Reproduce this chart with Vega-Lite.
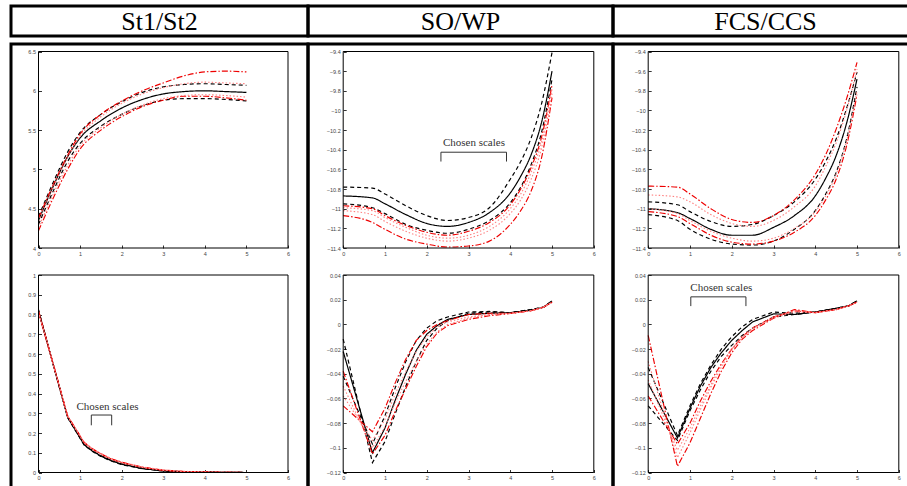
{
"$schema": "https://vega.github.io/schema/vega-lite/v6.json",
"padding": {"left": 9, "top": 4, "right": 0, "bottom": 0},
"background": "white",
"spacing": 4,
"config": {
  "view": {"stroke": "black", "strokeWidth": 3},
  "axis": {"grid": false, "domain": false, "ticks": true, "tickSize": -3, "tickColor": "black", "tickWidth": 0.8, "labelFont": "Liberation Sans", "labelFontSize": 5.5, "labelColor": "#444444", "labelPadding": 6, "labelFlush": false, "labelOverlap": false, "labelBound": false}
},
"datasets": {
  "p1": [
    {"x":0,"a":4.35,"b":4.40,"c":4.30,"d":4.38,"e":4.22,"f":4.34,"g":4.26},
    {"x":0.35,"a":4.78,"b":4.83,"c":4.72,"d":4.80,"e":4.63,"f":4.77,"g":4.68},
    {"x":0.7,"a":5.16,"b":5.22,"c":5.10,"d":5.18,"e":5.00,"f":5.15,"g":5.05},
    {"x":1,"a":5.40,"b":5.47,"c":5.33,"d":5.45,"e":5.26,"f":5.42,"g":5.30},
    {"x":1.5,"a":5.62,"b":5.70,"c":5.55,"d":5.70,"e":5.50,"f":5.67,"g":5.53},
    {"x":2,"a":5.78,"b":5.86,"c":5.70,"d":5.87,"e":5.67,"f":5.84,"g":5.70},
    {"x":2.5,"a":5.89,"b":5.98,"c":5.81,"d":6.00,"e":5.80,"f":5.96,"g":5.82},
    {"x":3,"a":5.96,"b":6.05,"c":5.88,"d":6.10,"e":5.88,"f":6.04,"g":5.90},
    {"x":3.5,"a":5.99,"b":6.08,"c":5.90,"d":6.19,"e":5.93,"f":6.09,"g":5.94},
    {"x":4,"a":6.00,"b":6.09,"c":5.90,"d":6.24,"e":5.93,"f":6.11,"g":5.95},
    {"x":4.5,"a":5.99,"b":6.08,"c":5.89,"d":6.25,"e":5.91,"f":6.10,"g":5.94},
    {"x":5,"a":5.98,"b":6.07,"c":5.87,"d":6.24,"e":5.88,"f":6.09,"g":5.92}
  ],
  "p2": [
    {"x":0,"a":-10.87,"b":-10.78,"c":-10.95,"d":-10.97,"e":-11.07,"f":-10.99,"g":-11.02},
    {"x":0.7,"a":-10.89,"b":-10.79,"c":-10.99,"d":-11.00,"e":-11.14,"f":-11.02,"g":-11.06},
    {"x":1,"a":-10.95,"b":-10.85,"c":-11.05,"d":-11.07,"e":-11.21,"f":-11.09,"g":-11.13},
    {"x":1.5,"a":-11.06,"b":-10.97,"c":-11.16,"d":-11.17,"e":-11.31,"f":-11.19,"g":-11.23},
    {"x":2,"a":-11.15,"b":-11.07,"c":-11.22,"d":-11.24,"e":-11.36,"f":-11.27,"g":-11.30},
    {"x":2.5,"a":-11.18,"b":-11.12,"c":-11.25,"d":-11.27,"e":-11.39,"f":-11.30,"g":-11.33},
    {"x":3,"a":-11.14,"b":-11.09,"c":-11.21,"d":-11.23,"e":-11.38,"f":-11.27,"g":-11.30},
    {"x":3.5,"a":-11.04,"b":-10.99,"c":-11.12,"d":-11.14,"e":-11.33,"f":-11.18,"g":-11.22},
    {"x":4,"a":-10.84,"b":-10.70,"c":-10.94,"d":-10.96,"e":-11.16,"f":-11.00,"g":-11.05},
    {"x":4.25,"a":-10.67,"b":-10.52,"c":-10.78,"d":-10.80,"e":-11.02,"f":-10.85,"g":-10.91},
    {"x":4.5,"a":-10.45,"b":-10.28,"c":-10.55,"d":-10.58,"e":-10.82,"f":-10.63,"g":-10.70},
    {"x":4.75,"a":-10.12,"b":-9.93,"c":-10.22,"d":-10.27,"e":-10.48,"f":-10.32,"g":-10.38},
    {"x":5,"a":-9.60,"b":-9.41,"c":-9.68,"d":-9.74,"e":-9.87,"f":-9.78,"g":-9.83}
  ],
  "p3": [
    {"x":0,"a":-11.00,"b":-10.93,"c":-11.06,"d":-10.77,"e":-11.03,"f":-10.86,"g":-11.00},
    {"x":0.7,"a":-11.04,"b":-10.96,"c":-11.12,"d":-10.78,"e":-11.08,"f":-10.88,"g":-11.05},
    {"x":1,"a":-11.10,"b":-11.03,"c":-11.21,"d":-10.85,"e":-11.15,"f":-10.93,"g":-11.12},
    {"x":1.5,"a":-11.21,"b":-11.13,"c":-11.31,"d":-11.00,"e":-11.27,"f":-11.06,"g":-11.23},
    {"x":2,"a":-11.27,"b":-11.18,"c":-11.36,"d":-11.11,"e":-11.34,"f":-11.15,"g":-11.30},
    {"x":2.5,"a":-11.27,"b":-11.16,"c":-11.37,"d":-11.14,"e":-11.36,"f":-11.18,"g":-11.33},
    {"x":3,"a":-11.19,"b":-11.07,"c":-11.33,"d":-11.07,"e":-11.33,"f":-11.12,"g":-11.30},
    {"x":3.5,"a":-11.07,"b":-10.93,"c":-11.21,"d":-10.91,"e":-11.24,"f":-10.98,"g":-11.20},
    {"x":4,"a":-10.87,"b":-10.70,"c":-11.02,"d":-10.65,"e":-11.07,"f":-10.77,"g":-11.03},
    {"x":4.25,"a":-10.69,"b":-10.52,"c":-10.85,"d":-10.45,"e":-10.91,"f":-10.57,"g":-10.87},
    {"x":4.5,"a":-10.46,"b":-10.29,"c":-10.63,"d":-10.19,"e":-10.70,"f":-10.33,"g":-10.65},
    {"x":4.75,"a":-10.13,"b":-9.98,"c":-10.29,"d":-9.88,"e":-10.36,"f":-10.00,"g":-10.31},
    {"x":5,"a":-9.68,"b":-9.61,"c":-9.76,"d":-9.51,"e":-9.84,"f":-9.58,"g":-9.80}
  ],
  "p4": [
    {"x":0,"a":0.82,"b":0.815,"c":0.825,"d":0.81,"e":0.82,"f":0.815,"g":0.812},
    {"x":0.35,"a":0.55,"b":0.552,"c":0.548,"d":0.55,"e":0.555,"f":0.552,"g":0.55},
    {"x":0.7,"a":0.28,"b":0.282,"c":0.278,"d":0.285,"e":0.288,"f":0.286,"g":0.284},
    {"x":0.9,"a":0.21,"b":0.212,"c":0.208,"d":0.218,"e":0.22,"f":0.22,"g":0.216},
    {"x":1.1,"a":0.14,"b":0.143,"c":0.138,"d":0.15,"e":0.152,"f":0.152,"g":0.148},
    {"x":1.3,"a":0.108,"b":0.111,"c":0.106,"d":0.118,"e":0.12,"f":0.12,"g":0.116},
    {"x":1.5,"a":0.083,"b":0.086,"c":0.081,"d":0.093,"e":0.095,"f":0.096,"g":0.092},
    {"x":1.75,"a":0.06,"b":0.062,"c":0.058,"d":0.068,"e":0.07,"f":0.071,"g":0.067},
    {"x":2,"a":0.042,"b":0.044,"c":0.04,"d":0.05,"e":0.052,"f":0.053,"g":0.049},
    {"x":2.5,"a":0.02,"b":0.021,"c":0.019,"d":0.026,"e":0.027,"f":0.028,"g":0.025},
    {"x":3,"a":0.008,"b":0.009,"c":0.007,"d":0.011,"e":0.012,"f":0.013,"g":0.011},
    {"x":3.5,"a":0.004,"b":0.004,"c":0.003,"d":0.005,"e":0.005,"f":0.006,"g":0.005},
    {"x":4,"a":0.002,"b":0.002,"c":0.002,"d":0.002,"e":0.003,"f":0.003,"g":0.002},
    {"x":4.5,"a":0.001,"b":0.001,"c":0.001,"d":0.001,"e":0.001,"f":0.001,"g":0.001},
    {"x":5,"a":0,"b":0,"c":0,"d":0,"e":0,"f":0,"g":0}
  ],
  "p5": [
    {"x":0,"a":-0.022,"b":-0.012,"c":-0.042,"d":-0.038,"e":-0.066,"f":-0.05,"g":-0.058},
    {"x":0.7,"a":-0.104,"b":-0.112,"c":-0.097,"d":-0.105,"e":-0.087,"f":-0.1,"g":-0.094},
    {"x":1,"a":-0.084,"b":-0.095,"c":-0.074,"d":-0.09,"e":-0.068,"f":-0.083,"g":-0.077},
    {"x":1.25,"a":-0.061,"b":-0.072,"c":-0.051,"d":-0.07,"e":-0.047,"f":-0.063,"g":-0.056},
    {"x":1.5,"a":-0.04,"b":-0.05,"c":-0.03,"d":-0.052,"e":-0.028,"f":-0.046,"g":-0.038},
    {"x":1.75,"a":-0.021,"b":-0.03,"c":-0.013,"d":-0.034,"e":-0.013,"f":-0.03,"g":-0.022},
    {"x":2,"a":-0.008,"b":-0.013,"c":-0.003,"d":-0.018,"e":-0.005,"f":-0.016,"g":-0.01},
    {"x":2.25,"a":-0.001,"b":-0.003,"c":0.003,"d":-0.007,"e":0,"f":-0.006,"g":-0.002},
    {"x":2.5,"a":0.004,"b":0.003,"c":0.006,"d":-0.001,"e":0.003,"f":0,"g":0.002},
    {"x":3,"a":0.008,"b":0.009,"c":0.01,"d":0.004,"e":0.008,"f":0.005,"g":0.006},
    {"x":3.5,"a":0.009,"b":0.01,"c":0.0105,"d":0.007,"e":0.009,"f":0.008,"g":0.008},
    {"x":4,"a":0.0095,"b":0.0095,"c":0.0095,"d":0.0088,"e":0.009,"f":0.009,"g":0.009},
    {"x":4.5,"a":0.0115,"b":0.012,"c":0.012,"d":0.011,"e":0.011,"f":0.011,"g":0.011},
    {"x":4.8,"a":0.014,"b":0.014,"c":0.014,"d":0.014,"e":0.014,"f":0.014,"g":0.014},
    {"x":5,"a":0.019,"b":0.019,"c":0.019,"d":0.018,"e":0.018,"f":0.018,"g":0.018}
  ],
  "p6": [
    {"x":0,"a":-0.048,"b":-0.035,"c":-0.066,"d":-0.009,"e":-0.058,"f":-0.03,"g":-0.045},
    {"x":0.7,"a":-0.092,"b":-0.09,"c":-0.094,"d":-0.115,"e":-0.097,"f":-0.108,"g":-0.102},
    {"x":1,"a":-0.068,"b":-0.066,"c":-0.07,"d":-0.096,"e":-0.08,"f":-0.088,"g":-0.084},
    {"x":1.25,"a":-0.05,"b":-0.048,"c":-0.053,"d":-0.076,"e":-0.062,"f":-0.069,"g":-0.066},
    {"x":1.5,"a":-0.035,"b":-0.033,"c":-0.038,"d":-0.056,"e":-0.046,"f":-0.051,"g":-0.049},
    {"x":1.75,"a":-0.023,"b":-0.02,"c":-0.026,"d":-0.038,"e":-0.032,"f":-0.035,"g":-0.033},
    {"x":2,"a":-0.013,"b":-0.01,"c":-0.017,"d":-0.023,"e":-0.02,"f":-0.021,"g":-0.02},
    {"x":2.25,"a":-0.005,"b":-0.002,"c":-0.009,"d":-0.012,"e":-0.01,"f":-0.011,"g":-0.01},
    {"x":2.5,"a":0.002,"b":0.004,"c":-0.003,"d":-0.005,"e":-0.003,"f":-0.004,"g":-0.003},
    {"x":3,"a":0.0085,"b":0.01,"c":0.006,"d":0.005,"e":0.006,"f":0.006,"g":0.005},
    {"x":3.5,"a":0.008,"b":0.009,"c":0.008,"d":0.012,"e":0.011,"f":0.011,"g":0.01},
    {"x":4,"a":0.01,"b":0.01,"c":0.01,"d":0.0095,"e":0.0095,"f":0.0095,"g":0.0095},
    {"x":4.5,"a":0.013,"b":0.013,"c":0.013,"d":0.012,"e":0.012,"f":0.012,"g":0.012},
    {"x":4.8,"a":0.015,"b":0.015,"c":0.015,"d":0.015,"e":0.015,"f":0.015,"g":0.015},
    {"x":5,"a":0.019,"b":0.019,"c":0.019,"d":0.018,"e":0.018,"f":0.018,"g":0.018}
  ]
},
"vconcat": [
  {
    "hconcat": [
      {"width": 297, "height": 30, "data": {"values": [{"h": "St1/St2", "cx": 0.5, "cy": 0.5}]}, "mark": {"type": "text", "font": "Liberation Serif", "fontSize": 26, "baseline": "alphabetic", "dy": 9, "color": "black"},
       "encoding": {"text": {"field": "h"}, "x": {"field": "cx", "type": "quantitative", "scale": {"domain": [0,1]}, "axis": null}, "y": {"field": "cy", "type": "quantitative", "scale": {"domain": [0,1]}, "axis": null}}},
      {"width": 305, "height": 30, "data": {"values": [{"h": "SO/WP", "cx": 0.5, "cy": 0.5}]}, "mark": {"type": "text", "font": "Liberation Serif", "fontSize": 26, "baseline": "alphabetic", "dy": 9, "color": "black"},
       "encoding": {"text": {"field": "h"}, "x": {"field": "cx", "type": "quantitative", "scale": {"domain": [0,1]}, "axis": null}, "y": {"field": "cy", "type": "quantitative", "scale": {"domain": [0,1]}, "axis": null}}},
      {"width": 305, "height": 30, "data": {"values": [{"h": "FCS/CCS", "cx": 0.5, "cy": 0.5}]}, "mark": {"type": "text", "font": "Liberation Serif", "fontSize": 26, "baseline": "alphabetic", "dy": 9, "color": "black"},
       "encoding": {"text": {"field": "h"}, "x": {"field": "cx", "type": "quantitative", "scale": {"domain": [0,1]}, "axis": null}, "y": {"field": "cy", "type": "quantitative", "scale": {"domain": [0,1]}, "axis": null}}}
    ],
    "spacing": 0,
    "bounds": "flush"
  },
  {
    "hconcat": [
      {
        "width": 297, "height": 450,
        "layer": [
          {"layer": [
            {"data": {"name": "p1"}, "transform": [{"fold": ["a","b","c","d","e","f","g"], "as": ["s","y"]}],
             "mark": {"type": "line", "interpolate": "monotone"},
             "encoding": {
               "x": {"field": "x", "type": "quantitative", "scale": {"domain": [0,6], "range": [27.5,277], "nice": false, "zero": false}, "axis": {"orient": "bottom", "offset": -246, "values": [0,1,2,3,4,5,6], "format": "~g", "title": null}},
               "y": {"field": "y", "type": "quantitative", "scale": {"domain": [4,6.5], "range": [204,7.5], "nice": false, "zero": false}, "axis": {"orient": "left", "offset": -27.5, "values": [4,4.5,5,5.5,6,6.5], "format": "~g", "title": null}},
               "color": {"field": "s", "type": "nominal", "scale": {"domain": ["a","b","c","d","e","f","g"], "range": ["#000000","#000000","#000000","#ee0000","#ee0000","#ff8080","#ff8080"]}, "legend": null},
               "strokeDash": {"field": "s", "type": "nominal", "scale": {"domain": ["a","b","c","d","e","f","g"], "range": [[1,0],[4,3],[4,3],[6,2,1.5,2],[6,2,1.5,2],[1.5,2],[1.5,2]]}, "legend": null},
               "strokeWidth": {"field": "s", "type": "nominal", "scale": {"domain": ["a","b","c","d","e","f","g"], "range": [1.2,1.1,1.1,1,1,0.9,0.9]}, "legend": null}
             }},
            {"data": {"values": [{}]}, "mark": {"type": "rect", "fillOpacity": 0, "stroke": "black", "strokeWidth": 1},
             "encoding": {"x": {"datum": 0, "type": "quantitative"}, "x2": {"datum": 6}, "y": {"datum": 4, "type": "quantitative"}, "y2": {"datum": 6.5}}}
          ]},
          {"layer": [
            {"data": {"name": "p4"}, "transform": [{"fold": ["a","b","c","d","e","f","g"], "as": ["s","y"]}],
             "mark": {"type": "line"},
             "encoding": {
               "x": {"field": "x", "type": "quantitative", "scale": {"domain": [0,6], "range": [27.5,277], "nice": false, "zero": false}, "axis": {"orient": "bottom", "offset": -21.5, "values": [0,1,2,3,4,5,6], "format": "~g", "title": null}},
               "y": {"field": "y", "type": "quantitative", "scale": {"domain": [0,1], "range": [428.5,231], "nice": false, "zero": false}, "axis": {"orient": "left", "offset": -27.5, "values": [0,0.1,0.2,0.3,0.4,0.5,0.6,0.7,0.8,0.9,1], "format": "~g", "title": null}},
               "color": {"field": "s", "type": "nominal", "scale": {"domain": ["a","b","c","d","e","f","g"], "range": ["#000000","#000000","#000000","#ee0000","#ee0000","#ff8080","#ff8080"]}, "legend": null},
               "strokeDash": {"field": "s", "type": "nominal", "scale": {"domain": ["a","b","c","d","e","f","g"], "range": [[1,0],[4,3],[4,3],[6,2,1.5,2],[6,2,1.5,2],[1.5,2],[1.5,2]]}, "legend": null},
               "strokeWidth": {"field": "s", "type": "nominal", "scale": {"domain": ["a","b","c","d","e","f","g"], "range": [1.2,1.1,1.1,1,1,0.9,0.9]}, "legend": null}
             }},
            {"data": {"values": [{}]}, "mark": {"type": "rect", "fillOpacity": 0, "stroke": "black", "strokeWidth": 1},
             "encoding": {"x": {"datum": 0, "type": "quantitative"}, "x2": {"datum": 6}, "y": {"datum": 0, "type": "quantitative"}, "y2": {"datum": 1}}},
            {"data": {"values": [{"x": 1.66, "y": 0.316, "t": "Chosen scales"}]}, "mark": {"type": "text", "font": "Liberation Serif", "fontSize": 11, "color": "#333333", "baseline": "alphabetic", "align": "center"},
             "encoding": {"x": {"field": "x", "type": "quantitative"}, "y": {"field": "y", "type": "quantitative"}, "text": {"field": "t"}}},
            {"data": {"values": [{"x": 1.27, "y": 0.239, "i": 0}, {"x": 1.27, "y": 0.291, "i": 1}, {"x": 1.76, "y": 0.291, "i": 2}, {"x": 1.76, "y": 0.239, "i": 3}]}, "mark": {"type": "line", "color": "#333333", "strokeWidth": 1},
             "encoding": {"x": {"field": "x", "type": "quantitative"}, "y": {"field": "y", "type": "quantitative"}, "order": {"field": "i"}}}
          ]}
        ],
        "resolve": {"scale": {"x": "independent", "y": "independent"}}
      },
      {
        "width": 305, "height": 450,
        "layer": [
          {"layer": [
            {"data": {"name": "p2"}, "transform": [{"fold": ["a","b","c","d","e","f","g"], "as": ["s","y"]}],
             "mark": {"type": "line", "interpolate": "monotone"},
             "encoding": {
               "x": {"field": "x", "type": "quantitative", "scale": {"domain": [0,6], "range": [35.2,285.8], "nice": false, "zero": false}, "axis": {"orient": "bottom", "offset": -246, "values": [0,1,2,3,4,5,6], "format": "~g", "title": null}},
               "y": {"field": "y", "type": "quantitative", "scale": {"domain": [-11.4,-9.4], "range": [204,7.5], "nice": false, "zero": false}, "axis": {"orient": "left", "offset": -35.2, "values": [-11.4,-11.2,-11,-10.8,-10.6,-10.4,-10.2,-10,-9.8,-9.6,-9.4], "format": "~g", "title": null}},
               "color": {"field": "s", "type": "nominal", "scale": {"domain": ["a","b","c","d","e","f","g"], "range": ["#000000","#000000","#000000","#ee0000","#ee0000","#ff8080","#ff8080"]}, "legend": null},
               "strokeDash": {"field": "s", "type": "nominal", "scale": {"domain": ["a","b","c","d","e","f","g"], "range": [[1,0],[4,3],[4,3],[6,2,1.5,2],[6,2,1.5,2],[1.5,2],[1.5,2]]}, "legend": null},
               "strokeWidth": {"field": "s", "type": "nominal", "scale": {"domain": ["a","b","c","d","e","f","g"], "range": [1.2,1.1,1.1,1,1,0.9,0.9]}, "legend": null}
             }},
            {"data": {"values": [{}]}, "mark": {"type": "rect", "fillOpacity": 0, "stroke": "black", "strokeWidth": 1},
             "encoding": {"x": {"datum": 0, "type": "quantitative"}, "x2": {"datum": 6}, "y": {"datum": -11.4, "type": "quantitative"}, "y2": {"datum": -9.4}}},
            {"data": {"values": [{"x": 3.13, "y": -10.365, "t": "Chosen scales"}]}, "mark": {"type": "text", "font": "Liberation Serif", "fontSize": 11, "color": "#333333", "baseline": "alphabetic", "align": "center"},
             "encoding": {"x": {"field": "x", "type": "quantitative"}, "y": {"field": "y", "type": "quantitative"}, "text": {"field": "t"}}},
            {"data": {"values": [{"x": 2.34, "y": -10.52, "i": 0}, {"x": 2.34, "y": -10.425, "i": 1}, {"x": 3.91, "y": -10.425, "i": 2}, {"x": 3.91, "y": -10.52, "i": 3}]}, "mark": {"type": "line", "color": "#333333", "strokeWidth": 1},
             "encoding": {"x": {"field": "x", "type": "quantitative"}, "y": {"field": "y", "type": "quantitative"}, "order": {"field": "i"}}}
          ]},
          {"layer": [
            {"data": {"name": "p5"}, "transform": [{"fold": ["a","b","c","d","e","f","g"], "as": ["s","y"]}],
             "mark": {"type": "line"},
             "encoding": {
               "x": {"field": "x", "type": "quantitative", "scale": {"domain": [0,6], "range": [35.2,285.8], "nice": false, "zero": false}, "axis": {"orient": "bottom", "offset": -21.5, "values": [0,1,2,3,4,5,6], "format": "~g", "title": null}},
               "y": {"field": "y", "type": "quantitative", "scale": {"domain": [-0.12,0.04], "range": [428.5,231], "nice": false, "zero": false}, "axis": {"orient": "left", "offset": -35.2, "values": [-0.12,-0.1,-0.08,-0.06,-0.04,-0.02,0,0.02,0.04], "format": "~g", "title": null}},
               "color": {"field": "s", "type": "nominal", "scale": {"domain": ["a","b","c","d","e","f","g"], "range": ["#000000","#000000","#000000","#ee0000","#ee0000","#ff8080","#ff8080"]}, "legend": null},
               "strokeDash": {"field": "s", "type": "nominal", "scale": {"domain": ["a","b","c","d","e","f","g"], "range": [[1,0],[4,3],[4,3],[6,2,1.5,2],[6,2,1.5,2],[1.5,2],[1.5,2]]}, "legend": null},
               "strokeWidth": {"field": "s", "type": "nominal", "scale": {"domain": ["a","b","c","d","e","f","g"], "range": [1.2,1.1,1.1,1,1,0.9,0.9]}, "legend": null}
             }},
            {"data": {"values": [{}]}, "mark": {"type": "rect", "fillOpacity": 0, "stroke": "black", "strokeWidth": 1},
             "encoding": {"x": {"datum": 0, "type": "quantitative"}, "x2": {"datum": 6}, "y": {"datum": -0.12, "type": "quantitative"}, "y2": {"datum": 0.04}}}
          ]}
        ],
        "resolve": {"scale": {"x": "independent", "y": "independent"}}
      },
      {
        "width": 305, "height": 450,
        "layer": [
          {"layer": [
            {"data": {"name": "p3"}, "transform": [{"fold": ["a","b","c","d","e","f","g"], "as": ["s","y"]}],
             "mark": {"type": "line", "interpolate": "monotone"},
             "encoding": {
               "x": {"field": "x", "type": "quantitative", "scale": {"domain": [0,6], "range": [35.2,285.8], "nice": false, "zero": false}, "axis": {"orient": "bottom", "offset": -246, "values": [0,1,2,3,4,5,6], "format": "~g", "title": null}},
               "y": {"field": "y", "type": "quantitative", "scale": {"domain": [-11.4,-9.4], "range": [204,7.5], "nice": false, "zero": false}, "axis": {"orient": "left", "offset": -35.2, "values": [-11.4,-11.2,-11,-10.8,-10.6,-10.4,-10.2,-10,-9.8,-9.6,-9.4], "format": "~g", "title": null}},
               "color": {"field": "s", "type": "nominal", "scale": {"domain": ["a","b","c","d","e","f","g"], "range": ["#000000","#000000","#000000","#ee0000","#ee0000","#ff8080","#ff8080"]}, "legend": null},
               "strokeDash": {"field": "s", "type": "nominal", "scale": {"domain": ["a","b","c","d","e","f","g"], "range": [[1,0],[4,3],[4,3],[6,2,1.5,2],[6,2,1.5,2],[1.5,2],[1.5,2]]}, "legend": null},
               "strokeWidth": {"field": "s", "type": "nominal", "scale": {"domain": ["a","b","c","d","e","f","g"], "range": [1.2,1.1,1.1,1,1,0.9,0.9]}, "legend": null}
             }},
            {"data": {"values": [{}]}, "mark": {"type": "rect", "fillOpacity": 0, "stroke": "black", "strokeWidth": 1},
             "encoding": {"x": {"datum": 0, "type": "quantitative"}, "x2": {"datum": 6}, "y": {"datum": -11.4, "type": "quantitative"}, "y2": {"datum": -9.4}}}
          ]},
          {"layer": [
            {"data": {"name": "p6"}, "transform": [{"fold": ["a","b","c","d","e","f","g"], "as": ["s","y"]}],
             "mark": {"type": "line"},
             "encoding": {
               "x": {"field": "x", "type": "quantitative", "scale": {"domain": [0,6], "range": [35.2,285.8], "nice": false, "zero": false}, "axis": {"orient": "bottom", "offset": -21.5, "values": [0,1,2,3,4,5,6], "format": "~g", "title": null}},
               "y": {"field": "y", "type": "quantitative", "scale": {"domain": [-0.12,0.04], "range": [428.5,231], "nice": false, "zero": false}, "axis": {"orient": "left", "offset": -35.2, "values": [-0.12,-0.1,-0.08,-0.06,-0.04,-0.02,0,0.02,0.04], "format": "~g", "title": null}},
               "color": {"field": "s", "type": "nominal", "scale": {"domain": ["a","b","c","d","e","f","g"], "range": ["#000000","#000000","#000000","#ee0000","#ee0000","#ff8080","#ff8080"]}, "legend": null},
               "strokeDash": {"field": "s", "type": "nominal", "scale": {"domain": ["a","b","c","d","e","f","g"], "range": [[1,0],[4,3],[4,3],[6,2,1.5,2],[6,2,1.5,2],[1.5,2],[1.5,2]]}, "legend": null},
               "strokeWidth": {"field": "s", "type": "nominal", "scale": {"domain": ["a","b","c","d","e","f","g"], "range": [1.2,1.1,1.1,1,1,0.9,0.9]}, "legend": null}
             }},
            {"data": {"values": [{}]}, "mark": {"type": "rect", "fillOpacity": 0, "stroke": "black", "strokeWidth": 1},
             "encoding": {"x": {"datum": 0, "type": "quantitative"}, "x2": {"datum": 6}, "y": {"datum": -0.12, "type": "quantitative"}, "y2": {"datum": 0.04}}},
            {"data": {"values": [{"x": 1.75, "y": 0.027, "t": "Chosen scales"}]}, "mark": {"type": "text", "font": "Liberation Serif", "fontSize": 11, "color": "#333333", "baseline": "alphabetic", "align": "center"},
             "encoding": {"x": {"field": "x", "type": "quantitative"}, "y": {"field": "y", "type": "quantitative"}, "text": {"field": "t"}}},
            {"data": {"values": [{"x": 1.02, "y": 0.0148, "i": 0}, {"x": 1.02, "y": 0.0223, "i": 1}, {"x": 2.34, "y": 0.0223, "i": 2}, {"x": 2.34, "y": 0.0148, "i": 3}]}, "mark": {"type": "line", "color": "#333333", "strokeWidth": 1},
             "encoding": {"x": {"field": "x", "type": "quantitative"}, "y": {"field": "y", "type": "quantitative"}, "order": {"field": "i"}}}
          ]}
        ],
        "resolve": {"scale": {"x": "independent", "y": "independent"}}
      }
    ],
    "spacing": 0,
    "bounds": "flush"
  }
]
}
